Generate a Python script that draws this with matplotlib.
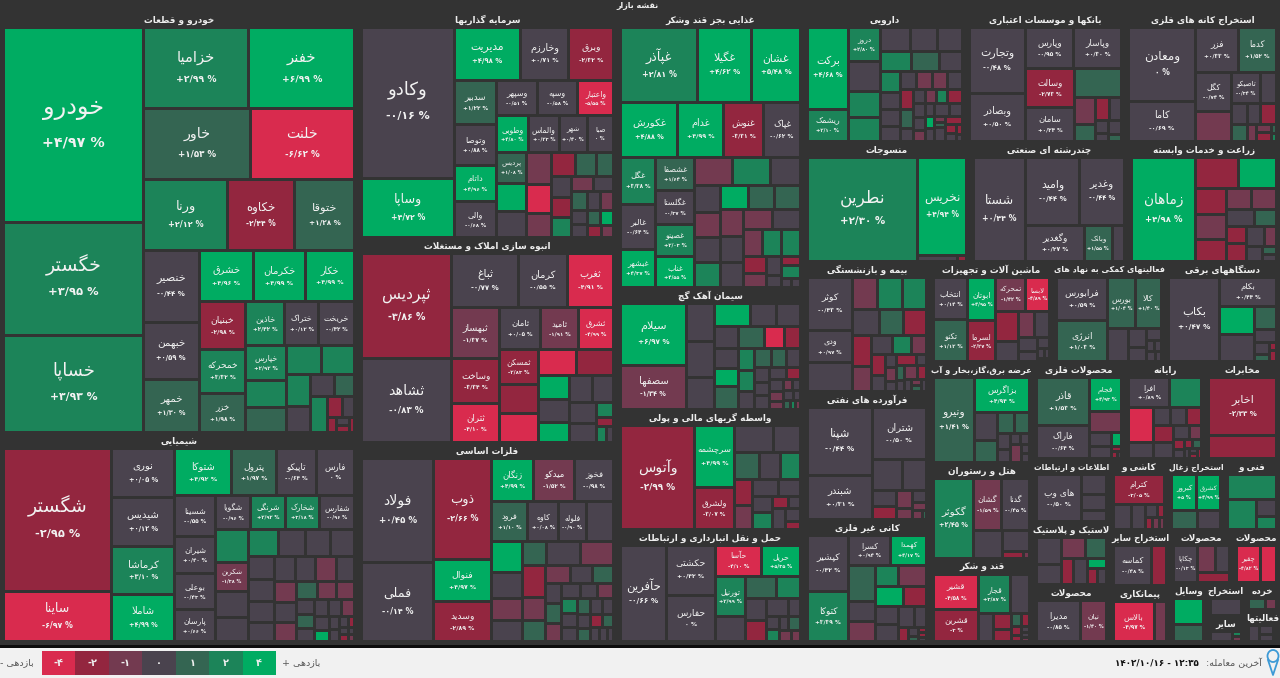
import numpy as np
import matplotlib
matplotlib.use('Agg')
import matplotlib.pyplot as plt
from matplotlib.colors import ListedColormap, BoundaryNorm
from matplotlib.patches import Rectangle, Ellipse

plt.rcParams['font.family'] = ['DejaVu Sans']

# sizes are market weights read from the area of each box
sector_titles = [
    'خودرو و قطعات', 'شیمیایی', 'سرمایه گذاریها', 'انبوه سازی املاک و مستغلات', 'فلزات اساسی',
    'غذایی بجز قند وشکر', 'سیمان آهک گچ', 'واسطه گریهای مالی و پولی', 'حمل و نقل انبارداری و ارتباطات',
    'دارویی', 'بانکها و موسسات اعتباری', 'استخراج کانه های فلزی',
    'منسوجات', 'چندرشته ای صنعتی', 'زراعت و خدمات وابسته',
    'بیمه و بازنشستگی', 'فرآورده های نفتی', 'کانی غیر فلزی',
    'ماشین آلات و تجهیزات', 'فعالیتهای کمکی به نهاد های', 'دستگاههای برقی',
    'عرضه برق،گاز،بخار و آب', 'هتل و رستوران', 'قند و شکر',
    'محصولات فلزی', 'رایانه', 'مخابرات',
    'اطلاعات و ارتباطات', 'لاستیک و پلاستیک', 'محصولات',
    'کاشی و', 'استخراج زغال', 'فنی و',
    'استخراج سایر', 'پیمانکاری', 'محصولات', 'محصولات',
    'وسایل', 'استخراج', 'سایر', 'خرده', 'فعالیتها',
]
sector_sizes = [
    150718, 74822, 58534, 53095, 51541,
    51612, 22814, 22440, 20944,
    21060, 20670, 20150,
    19920, 18960, 18240,
    16380, 16128, 15372,
    12300, 11200, 11500,
    10403, 9888, 8549,
    8924, 7760, 7275,
    4851, 4851, 4389,
    4118, 3976, 3976,
    3360, 3360, 3339, 2491,
    2183, 1254, 988, 945, 1120,
]

names_khodro = ['خودرو', 'خگستر', 'خساپا', 'خزامیا', 'خفنر', 'خاور', 'خلنت', 'ورنا', 'خکاوه', 'ختوقا',
                'خنصیر', 'خبهمن', 'خمهر', 'خشرق', 'خکرمان', 'خکار', 'خبنیان', 'خمحرکه', 'خزر',
                'خاذین', 'ختراک', 'خریخت', 'خپارس']
sizes_khodro = [26966, 15568, 13483, 8480, 8480, 7500, 7340, 5950, 4690, 4200,
                3960, 3190, 2915, 2700, 2650, 2450, 2208, 2024, 1794,
                1677, 1505, 1548, 1400, 1080, 1000, 1000, 950, 760, 620, 528, 440, 620, 300, 240, 130, 110, 90, 80]
returns_khodro = [4.97, 3.95, 3.93, 2.99, 6.99, 1.53, -6.62, 2.12, -2.44, 1.28,
                  -0.44, 0.59, 1.30, 4.96, 4.99, 4.99, -2.98, 3.32, 1.98,
                  2.42, 0.12, -0.42, 2.92, 2.5, 1.5, 2.5, 2.5, 2.5, 0, 0, 1.5, 2.5, -2.5, 0, -2.5, 0, -2.5, -2.5]

names_shimi = ['شگستر', 'ساینا', 'نوری', 'شیدیس', 'کرماشا', 'شاملا', 'شتوکا', 'پترول', 'تاپیکو', 'فارس',
               'شسینا', 'شیران', 'بوعلی', 'پارسان', 'شگویا', 'شرنگی', 'شخارک', 'شفارس', '', 'شکربن']
sizes_shimi = [15120, 5250, 3000, 3000, 2990, 2870, 2610, 2070, 1845, 1755,
               1600, 1480, 1440, 1250, 1180, 1150, 1150, 1150, 1050, 930, 840, 775,
               770, 700, 650, 625, 600, 580, 530, 500, 500, 500, 500, 450,
               460, 420, 400, 370, 350, 320, 250, 240, 230, 230, 220, 210, 200, 170, 130, 120, 100, 60, 60, 60, 40, 40]
returns_shimi = [-2.95, -6.97, 0.05, 0.12, 3.10, 4.99, 4.92, 1.97, -0.64, 0,
                 -0.55, 0.40, -0.43, 0.66, -0.96, 2.92, 3.18, -0.96, 2.5, -1.38, 0, 0,
                 2.5, 0, 0, 0, 0, 0, 0, 0, 0, 0, -1.5, 0,
                 -1.5, 0, -1.5, 1.5, -1.5, -1.5, 0, 1.5, 0, 0, 0, -1.5, 0, 4.5, 0, 0, 0, -2.5, 0, -2.5, 0, -1.5]

names_sarmaye = ['وکادو', 'وساپا', 'مدیریت', 'وخارزم', 'وبرق', 'سدبیر', 'وتوصا', 'داتام', 'والی',
                 'وسپهر', 'وسپه', 'واعتبار', 'وطوبی', 'والماس', 'شهر', 'صبا', 'پردیس']
sizes_sarmaye = [13741, 5369, 3400, 2500, 2300, 1800, 1640, 1480, 1440,
                 1420, 1390, 1250, 1150, 1120, 990, 950, 920, 840, 780,
                 800, 700, 600, 560, 480, 400, 400, 390, 380, 320, 300, 290, 250, 240, 210, 200, 190, 180, 170, 150]
returns_sarmaye = [-0.16, 4.72, 4.98, 0.71, -2.32, 1.22, 0.88, 4.96, -0.68,
                   -0.51, -0.58, -5.55, 4.80, 0.23, 0.40, 0, 1.08, 4.5, 0,
                   -1.5, -4.5, -1.5, -2.5, 1.5, 1.5, 0, -2.5, 2.5, -1.5, 0, 1.5, 0, -1.5, 0, 0, 1.5, 4.5, -2.5, -1.5]

names_anbooh = ['ثپردیس', 'ثشاهد', 'ثباغ', 'کرمان', 'ثغرب', 'ثبهساز', 'وساخت', 'ثتران', 'ثامان', 'ثامید', 'ثشرق', 'ثمسکن']
sizes_anbooh = [9360, 7470, 3600, 2600, 2490, 2400, 2112, 1824, 1680, 1520, 1440, 1365, 1130, 1100,
                975, 950, 740, 700, 620, 620, 590, 560, 500, 250, 150, 150, 110]
returns_anbooh = [-3.86, -0.83, -0.77, -0.55, -4.91, -1.37, -3.34, -4.10, 0.05, -1.91, -4.99, -2.83, -2.5, -4.5,
                  -4.5, -2.5, 4.5, 0, 4.5, 0, 0, 0, 0, 2.5, -2.5, 2.5, 0]

names_felezat = ['فولاد', 'فملی', 'ذوب', 'فنوال', 'وسدید', 'زنگان', 'میدکو', 'فخوز', 'فرود', 'کاوه', 'فلوله']
sizes_felezat = [7384, 5609, 5656, 2350, 2240, 1800, 1760, 1640, 1444, 1216, 1100, 1060,
                 950, 790, 700, 640, 560, 800, 770, 720, 500, 480, 430, 380, 360, 330, 320,
                 290, 270, 250, 240, 230, 220, 210, 200, 190, 180, 170, 160, 150, 140, 130, 110, 90]
returns_felezat = [0.45, -0.14, -2.66, 4.97, -2.89, 4.99, -1.52, -0.98, 1.10, 0.08, -0.90, 0,
                   4.5, 0, -1.5, 0, 1.5, 0, -1.5, -2.5, -1.5, 1.5, -1.5, 0, 1.5, 0, 1.5,
                   -1.5, 0, 0, -1.5, 2.5, 0, 0, 1.5, 0, 0, 0, 1.5, -2.5, 1.5, 0, 0, 0]

names_ghaza = ['غپآذر', 'غگیلا', 'غشان', 'غکورش', 'غدام', 'غنوش', 'غپاک', 'غگل', 'غالبر', 'غبشهر',
               'غشصفا', 'غگلستا', 'غصینو', 'غناب']
sizes_ghaza = [5688, 3960, 3600, 3130, 2480, 2210, 2000, 1645, 1540, 1330,
               1290, 1290, 1250, 1180, 1050, 1030, 840, 680, 660, 640, 630, 670, 620, 620,
               590, 570, 560, 560, 540, 530, 510, 500, 400, 330, 290, 170, 180, 230, 90, 80]
returns_ghaza = [2.81, 4.62, 5.48, 4.88, 4.99, -3.31, -0.62, 3.38, -0.64, 4.37,
                 1.64, -0.37, 2.03, 4.55, -1.5, 2.5, 0, 0, -1.5, 0, 2.5, 4.5, 1.5, 1.5,
                 -1.5, 0, 0, -1.5, 0, -1.5, 2.5, 2.5, -2.5, -1.5, 0, 0, -2.5, 2.5, 0, 0]

names_siman = ['سیلام', 'سصفها']
sizes_siman = [3968, 2816, 1020, 990, 850, 816, 600, 530, 520, 470, 430, 550, 550, 430,
               350, 340, 330, 290, 290, 270, 250, 220, 200, 200, 190, 170, 160, 130, 110, 100, 90, 90, 70, 60, 50, 40]
returns_siman = [6.97, -1.34, 0, 0, 0, 4.5, 0, 0, 0, 0, 4.5, 1.5, 1.5, -4.5,
                 -2.5, 2.5, 2.5, 0, 1.5, 1.5, 0, 0, 0, 0, 0, -2.5, 0, -1.5, -1.5, -1.5, 0, 0, 0, 1.5, 2.5, -1.5]

names_vasete = ['وآتوس', 'سرچشمه', 'ولشرق']
sizes_vasete = [7650, 2440, 1680, 1040, 720, 680, 560, 530, 470, 430, 450, 370, 320, 330, 190, 140, 260, 200, 120]
returns_vasete = [-2.99, 4.99, -3.07, 0, 0, 1.5, 0, 2.5, -2.5, -1.5, 0, 0, 0, 2.5, -2.5, 0, 0, 0, -2.5]

names_haml = ['حآفرین', 'حکشتی', 'حفارس', 'حآسا', 'حریل', 'تورنیل']
sizes_haml = [4465, 2450, 2300, 1440, 1200, 1240, 760, 680, 550, 470, 430, 400, 230, 170, 150, 120, 170, 130, 100]
returns_haml = [-0.66, 0.42, 0, -4.10, 5.35, 2.99, 0, 1.5, 2.5, 0, -2.5, 0, 0, 0, 2.5, 0, 1.5, -1.5, -1.5]

names_darou = ['برکت', 'ریشمک', 'دروز']
sizes_darou = [3160, 1250, 1020, 900, 810, 710, 700, 610, 570, 600, 550, 440, 390, 340, 320, 300, 280,
               270, 260, 250, 240, 230, 160, 150, 150, 140, 190, 170, 150, 130, 110,
               180, 160, 100, 100, 60, 50, 150, 140, 90, 90, 50, 40]
returns_darou = [4.68, 2.10, 2.80, 0, 2.5, 2.5, 0, 0, 0, 2.5, 1.5, 0, 2.5, 0, 0, 0, 0,
                 -1.5, -1.5, 0, -2.5, 1.5, 0, 0, -1.5, 2.5, -2.5, 0, 0, -1.5, 0,
                 0, 0, 4.5, 0, -1.5, 1.5, 0, -2.5, -2.5, 0, -2.5, 0]

names_bank = ['وتجارت', 'وبصادر', 'وپارس', 'وپاسار', 'وسالت', 'سامان']
sizes_bank = [3640, 2690, 2000, 1960, 1900, 1700, 1320, 560, 360, 310, 280, 170, 100, 190, 90]
returns_bank = [-0.48, 0.50, -0.95, 0.30, -2.73, 0.24, 1.5, -1.5, 1.5, -2.5, 0, 0, 0, 0, 1.5]

names_kane = ['ومعادن', 'کاما', 'فزر', 'کدما', 'کگل', '', 'تاصیکو']
sizes_kane = [5032, 2720, 1980, 1755, 1406, 1070, 930, 500, 360, 290, 270, 340, 150, 120, 130, 40, 40]
returns_kane = [0, -0.69, 0.33, 1.52, -0.74, -1.5, -0.34, 0, 0, 1.5, 0, -2.5, -1.5, -1.5, -2.5, 1.5, 2.5]

names_nasaji = ['نطرین', 'نخریس']
sizes_nasaji = [11433, 4750, 250, 60]
returns_nasaji = [2.30, 4.94, 0, -2.5]

names_chand = ['شستا', 'وامید', 'وغدیر', 'وگغدیر', 'وبانک']
sizes_chand = [5459, 3630, 3100, 2120, 1040, 430]
returns_chand = [0.44, -0.44, -0.44, 0.27, 1.55, 0]

names_zeraat = ['زماهان']
sizes_zeraat = [6386, 1260, 1120, 760, 700, 640, 510, 490, 470, 370, 340, 350, 330, 240, 220, 100, 90]
returns_zeraat = [4.98, -2.5, 4.5, -2.5, -1.5, -2.5, -1.5, -1.5, 0, 1.5, -2.5, -2.5, 0, -1.5, 0, 1.5, 0]

names_bime = ['کوثر', 'ودی']
sizes_bime = [2226, 1300, 1220, 730, 720, 720, 620, 570, 540, 550, 440, 370, 340, 280, 260,
              190, 130, 140, 100, 200, 100, 120, 90, 170, 110, 70, 60, 60, 50]
returns_bime = [-0.43, 0.97, 0, -1.5, 2.5, 2.5, 0, 1.5, -2.5, -2.5, -1.5, 0, 2.5, -1.5, -2.5,
                0, 0, -1.5, 0, -2.5, 0, 1.5, 0, -1.5, -2.5, 0, -1.5, 1.5, 0]

names_naft = ['شپنا', 'شبندر', 'شتران']
sizes_naft = [4416, 2880, 2860, 930, 725, 390, 320, 300, 180, 170, 100, 90, 40]
returns_naft = [-0.44, 0.31, -0.50, 0, 0, 0, -2.5, -1.5, -1.5, 0, -1.5, -1.5, 1.5]

names_kani = ['کپشیر', 'کتوکا', 'کسرا', 'کهمدا']
sizes_kani = [2160, 1920, 1178, 988, 912, 510, 490, 470, 560, 530, 430, 390, 370, 310, 230, 130, 80, 50, 40, 40, 30]
returns_kani = [-0.42, 3.39, 0.94, 4.17, 1.5, 0, -1.5, 2.5, -1.5, 4.5, -2.5, 0, 0, 0, 0, -2.5, 0, 1.5, -2.5, -2.5, 0]

names_mashin = ['انتخاب', 'تکنو', 'ابوتان', 'لسرما', 'تمحرکه', 'لابسا']
sizes_mashin = [1420, 1390, 1200, 1150, 1000, 790, 680, 460, 430, 380, 260, 180, 130, 70, 50, 40]
returns_mashin = [0.14, 1.12, 4.95, -2.27, -1.42, -4.89, -2.5, 0, -1.5, 0, 0, 0, 0, 0, 0, 0]

names_komaki = ['فرابورس', 'انرژی', 'بورس', 'کالا']
sizes_komaki = [2150, 2050, 1380, 1320, 670, 320, 250, 160, 90, 80, 80, 60]
returns_komaki = [0.59, 1.03, 1.04, 1.40, 0, 0, 0, 0, 0, 0, 0, 0]

names_bargi = ['بکاب', 'بکام']
sizes_bargi = [4250, 1665, 990, 950, 480, 290, 170, 100, 60, 80]
returns_bargi = [0.47, 0.44, 4.5, 0, 1.5, 0, 0, 1.5, -2.5, -2.5]

names_bargh = ['ونیرو', 'بزاگرس']
sizes_bargh = [3500, 1940, 640, 500, 360, 320, 220, 170, 100, 100, 200, 70, 70]
returns_bargh = [1.41, 4.94, 0, 1.5, 1.5, 1.5, 0, 0, 0, 0, -1.5, 0, 0]

names_hotel = ['گکوثر', 'گشان', 'گدنا']
sizes_hotel = [3100, 1450, 1400, 800, 560, 130, 40]
returns_hotel = [2.45, -1.59, -0.45, 0, 0, -2.5, -1.5]

names_ghand = ['قشیر', 'قشرین', 'قجار']
sizes_ghand = [1630, 1450, 1260, 780, 420, 270, 220, 140, 100, 100, 60, 50, 40, 30]
returns_ghand = [-4.58, -3.00, 3.87, 0, 0, -2.5, -2.5, 1.5, -2.5, -2.5, -2.5, 0, 0, -1.5]

names_felezi = ['قاذر', 'فاراک', 'فجام']
sizes_felezi = [2650, 1780, 1120, 680, 300, 280, 130, 50, 40, 30]
returns_felezi = [1.53, -0.64, 4.93, -1.5, 0, 0, 4.5, -2.5, -2.5, 0]

names_rayane = ['افرا']
sizes_rayane = [1320, 1020, 940, 440, 340, 320, 290, 360, 340, 240, 190, 120, 100, 80, 80, 60, 50, 40, 40]
returns_rayane = [0.89, 2.5, -4.5, 0, 0, 0, -2.5, -2.5, 0, 0, -1.5, -2.5, 0, -2.5, 1.5, 0, 0, -2.5, -2.5]

names_mokhaberat = ['اخابر']
sizes_mokhaberat = [3820, 1470]
returns_mokhaberat = [-2.33, -2.5]

names_ettelaat = ['های وب']
sizes_ettelaat = [2200, 540, 430, 290]
returns_ettelaat = [-0.50, 0, 0, 0]

names_lastik = []
sizes_lastik = [650, 470, 490, 410, 310, 360, 180, 150, 150]
returns_lastik = [0, 0, -1.5, 1.5, -2.5, 0, 4.5, -2.5, 0]

names_madira = ['مدیرا', 'نیان']
sizes_madira = [1930, 1130]
returns_madira = [-0.85, -1.40]

names_kashi = ['کترام']
sizes_kashi = [1620, 475, 375, 150, 100, 80, 100, 60]
returns_kashi = [-3.05, 0, 0, 0, -2.5, -2.5, -1.5, -1.5]

names_zoghal = ['کبرور', 'کشرق']
sizes_zoghal = [1000, 925, 510, 470]
returns_zoghal = [5.00, 4.99, 1.5, 0]

names_fanni = []
sizes_fanni = [1270, 900, 340, 270]
returns_fanni = [2.5, 2.5, 0, 2.5]

names_mosaye = ['کماسه']
sizes_mosaye = [1760, 680]
returns_mosaye = [-0.48, -2.5]

names_peyman = ['بالاس']
sizes_peyman = [1880, 560]
returns_peyman = [-4.97, -1.5]

names_chakapa = ['چکاپا']
sizes_chakapa = [790, 470, 340, 280]
returns_chakapa = [-0.13, -1.5, 0, -2.5]

names_chaghir = ['چقیر']
sizes_chaghir = [900, 610]
returns_chaghir = [-4.82, -4.5]

sizes_vasayel = [810, 510]
returns_vasayel = [4.5, 1.5]
sizes_estekhraj = [680]
returns_estekhraj = [0]
sizes_sayer = [480, 100, 90]
returns_sayer = [0, 2.5, -1.5]
sizes_khorde = [380, 240]
returns_khorde = [1.5, -1.5]
sizes_faal = [120, 90, 70, 40]
returns_faal = [0, 0, 0, 1.5]

sectors = [
    (names_khodro, sizes_khodro, returns_khodro), (names_shimi, sizes_shimi, returns_shimi),
    (names_sarmaye, sizes_sarmaye, returns_sarmaye), (names_anbooh, sizes_anbooh, returns_anbooh),
    (names_felezat, sizes_felezat, returns_felezat), (names_ghaza, sizes_ghaza, returns_ghaza),
    (names_siman, sizes_siman, returns_siman), (names_vasete, sizes_vasete, returns_vasete),
    (names_haml, sizes_haml, returns_haml), (names_darou, sizes_darou, returns_darou),
    (names_bank, sizes_bank, returns_bank), (names_kane, sizes_kane, returns_kane),
    (names_nasaji, sizes_nasaji, returns_nasaji), (names_chand, sizes_chand, returns_chand),
    (names_zeraat, sizes_zeraat, returns_zeraat), (names_bime, sizes_bime, returns_bime),
    (names_naft, sizes_naft, returns_naft), (names_kani, sizes_kani, returns_kani),
    (names_mashin, sizes_mashin, returns_mashin), (names_komaki, sizes_komaki, returns_komaki),
    (names_bargi, sizes_bargi, returns_bargi), (names_bargh, sizes_bargh, returns_bargh),
    (names_hotel, sizes_hotel, returns_hotel), (names_ghand, sizes_ghand, returns_ghand),
    (names_felezi, sizes_felezi, returns_felezi), (names_rayane, sizes_rayane, returns_rayane),
    (names_mokhaberat, sizes_mokhaberat, returns_mokhaberat), (names_ettelaat, sizes_ettelaat, returns_ettelaat),
    (names_lastik, sizes_lastik, returns_lastik), (names_madira, sizes_madira, returns_madira),
    (names_kashi, sizes_kashi, returns_kashi), (names_zoghal, sizes_zoghal, returns_zoghal),
    (names_fanni, sizes_fanni, returns_fanni), (names_mosaye, sizes_mosaye, returns_mosaye),
    (names_peyman, sizes_peyman, returns_peyman), (names_chakapa, sizes_chakapa, returns_chakapa),
    (names_chaghir, sizes_chaghir, returns_chaghir), ([], sizes_vasayel, returns_vasayel),
    ([], sizes_estekhraj, returns_estekhraj), ([], sizes_sayer, returns_sayer),
    ([], sizes_khorde, returns_khorde), ([], sizes_faal, returns_faal),
]

legend_steps = [-4, -2, -1, 0, 1, 2, 4]
return_bins = [-100, -4, -2, -1, 1, 2, 4, 100]
step_colors = ['#D92B4E', '#93263F', '#733A50', '#4A434E', '#346552', '#1C8459', '#00AC62']
cmap = ListedColormap(step_colors)
norm = BoundaryNorm(return_bins, cmap.N)

# these sectors start with a left column even though the area is slightly taller than wide
col_bias = {'خودرو و قطعات': 0.86, 'فلزات اساسی': 0.95, 'ماشین آلات و تجهیزات': 0.95}

# matplotlib does no arabic joining, so pick the presentation forms by hand
# letter -> (first code point, number of forms: 2 = joins right only, 4 = both)
letter_forms = {}
for ch, start, n in [('ء', 0xFE80, 1), ('آ', 0xFE81, 2), ('ا', 0xFE8D, 2), ('ب', 0xFE8F, 4), ('ت', 0xFE95, 4),
                     ('ث', 0xFE99, 4), ('ج', 0xFE9D, 4), ('ح', 0xFEA1, 4), ('خ', 0xFEA5, 4), ('د', 0xFEA9, 2),
                     ('ذ', 0xFEAB, 2), ('ر', 0xFEAD, 2), ('ز', 0xFEAF, 2), ('س', 0xFEB1, 4), ('ش', 0xFEB5, 4),
                     ('ص', 0xFEB9, 4), ('ض', 0xFEBD, 4), ('ط', 0xFEC1, 4), ('ظ', 0xFEC5, 4), ('ع', 0xFEC9, 4),
                     ('غ', 0xFECD, 4), ('ف', 0xFED1, 4), ('ق', 0xFED5, 4), ('ک', 0xFB8E, 4), ('گ', 0xFB92, 4),
                     ('ل', 0xFEDD, 4), ('م', 0xFEE1, 4), ('ن', 0xFEE5, 4), ('ه', 0xFEE9, 4), ('و', 0xFEED, 2),
                     ('ی', 0xFBFC, 4), ('پ', 0xFB56, 4), ('چ', 0xFB7A, 4), ('ژ', 0xFB8A, 2)]:
    letter_forms[ch] = (start, n)


def fa_digits(s):
    return s.translate(str.maketrans('0123456789', '۰۱۲۳۴۵۶۷۸۹'))


def shape(text):
    out = []
    i = 0
    while i < len(text):
        ch = text[i]
        if ch not in letter_forms:
            out.append(ch)
            i += 1
            continue
        prev = text[i - 1] if i > 0 else ''
        joins_prev = prev in letter_forms and letter_forms[prev][1] == 4
        nxt = text[i + 1] if i + 1 < len(text) else ''
        # lam + alef is one glyph
        if ch == 'ل' and nxt in ('ا', 'آ'):
            base = 0xFEFB if nxt == 'ا' else 0xFEF5
            out.append(chr(base + (1 if joins_prev else 0)))
            i += 2
            continue
        start, n = letter_forms[ch]
        joins_next = n == 4 and nxt in letter_forms
        if n == 1:
            form = 0
        elif joins_prev and joins_next:
            form = 3
        elif joins_next:
            form = 2
        elif joins_prev:
            form = 1
        else:
            form = 0
        out.append(chr(start + form))
        i += 1
    return ''.join(reversed(out))


def fmt_return(v):
    if v == 0:
        return '۰ %'
    s = f'{abs(v):.2f}'
    if s.endswith('.00'):
        s = s[:-3]
    return ('+' if v > 0 else '-') + fa_digits(s.replace('.', '/')) + ' %'


def squarify(sizes, x0, y0, x1, y1, bias=1.0):
    k = (x1 - x0) * (y1 - y0) / sum(sizes)
    vals = [s * k for s in sizes]
    rects = []
    i = 0
    while i < len(vals):
        dx, dy = x1 - x0, y1 - y0
        as_col = dx >= dy * bias
        side = dy if as_col else dx
        total = vals[i]
        lo = hi = vals[i]
        best = max(side * side * hi / total ** 2, total ** 2 / (side * side * lo))
        j = i + 1
        while j < len(vals):
            t2 = total + vals[j]
            lo2, hi2 = min(lo, vals[j]), max(hi, vals[j])
            ratio = max(side * side * hi2 / t2 ** 2, t2 ** 2 / (side * side * lo2))
            if ratio > best:
                break
            total, lo, hi, best = t2, lo2, hi2, ratio
            j += 1
        if as_col:
            w = total / dy
            y = y0
            for v in vals[i:j]:
                rects.append((x0, y, x0 + w, y + v / w))
                y += v / w
            x0 += w
        else:
            h = total / dx
            x = x0
            for v in vals[i:j]:
                rects.append((x, y0, x + v / h, y0 + h))
                x += v / h
            y0 += h
        i = j
    return rects


fig = plt.figure(figsize=(12.8, 6.78), dpi=100, facecolor='#f1f1f1')
ax = fig.add_axes([0, 0, 1, 1])
ax.set_xlim(0, 1280)
ax.set_ylim(678, 0)
ax.axis('off')

ax.add_patch(Rectangle((0, 0), 1280, 645, color='#333333', lw=0))
ax.add_patch(Rectangle((0, 645), 1280, 3, color='#0c0c0c', lw=0))
ax.text(638, 6, shape('نقشه بازار'), color='#eeeeee', fontsize=5.8, fontweight='bold', ha='center', va='center')

renderer = fig.canvas.get_renderer()


def fit_text(x, y, s, size, max_w, **kw):
    t = ax.text(x, y, s, fontsize=size, ha='center', va='center', **kw)
    w = t.get_window_extent(renderer).width
    if w > max_w:
        t.set_fontsize(max(size * max_w / w, 3.5))
    return t


sector_rects = squarify(sector_sizes, 0, 12, 1280, 642)
for title, (sx0, sy0, sx1, sy1), (names, sizes, returns) in zip(sector_titles, sector_rects, sectors):
    fit_text((sx0 + sx1) / 2, sy0 + 8, shape(title), 6.4, sx1 - sx0 - 2, color='#eeeeee', fontweight='bold')
    cells = squarify(sizes, sx0 + 3.5, sy0 + 15.5, sx1 - 3.5, sy1 - 0.5, col_bias.get(title, 1.0))
    for n, (cx0, cy0, cx1, cy1) in enumerate(cells):
        ret = returns[n]
        ax.add_patch(Rectangle((cx0 + 1.5, cy0 + 1.5), cx1 - cx0 - 3, cy1 - cy0 - 3, color=cmap(norm(ret)), lw=0))
        name = names[n] if n < len(names) else ''
        if not name:
            continue
        w, h = cx1 - cx0 - 3, cy1 - cy0 - 3
        root = np.sqrt((w + 3) * (h + 3))
        cx, cy = (cx0 + cx1) / 2, (cy0 + cy1) / 2
        off = 0.87 * (1.6 + 0.112 * root)
        fit_text(cx, cy - off, shape(name), 2.4 + 0.09 * root, w - 3, color='#f2f2f2')
        fit_text(cx, cy + off, fmt_return(ret), 2 + 0.05 * root, w - 3, color='#f2f2f2', fontweight='bold')

# legend strip in the footer
leg_x = np.linspace(42, 276, len(legend_steps) + 1)
for i, step in enumerate(legend_steps):
    ax.add_patch(Rectangle((leg_x[i], 651), leg_x[i + 1] - leg_x[i], 24, color=step_colors[i], lw=0))
    label = fa_digits(str(abs(step)))
    if step < 0:
        label = '-' + label
    ax.text((leg_x[i] + leg_x[i + 1]) / 2, 663, label, color='#eeeeee', fontsize=7, fontweight='bold',
            ha='center', va='center')

ax.text(17, 663, shape('بازدهی -'), color='#555555', fontsize=6.8, ha='center', va='center')
ax.text(301, 663, shape('بازدهی +'), color='#555555', fontsize=6.8, ha='center', va='center')

ax.text(1262, 663, shape('آخرین معامله:'), color='#555555', fontsize=6.8, ha='right', va='center')
ax.text(1199, 663, fa_digits('1402/10/16 - 12:35'), color='#111111', fontsize=6.3, fontweight='bold',
        ha='right', va='center')

# location pin icon
ax.add_patch(Ellipse((1273, 656), 11, 12, fc='none', ec='#3d9ad6', lw=1.3))
ax.plot([1268, 1273, 1278], [660, 675, 660], color='#3d9ad6', lw=1.3)

fig.savefig('out.png', dpi=100)
